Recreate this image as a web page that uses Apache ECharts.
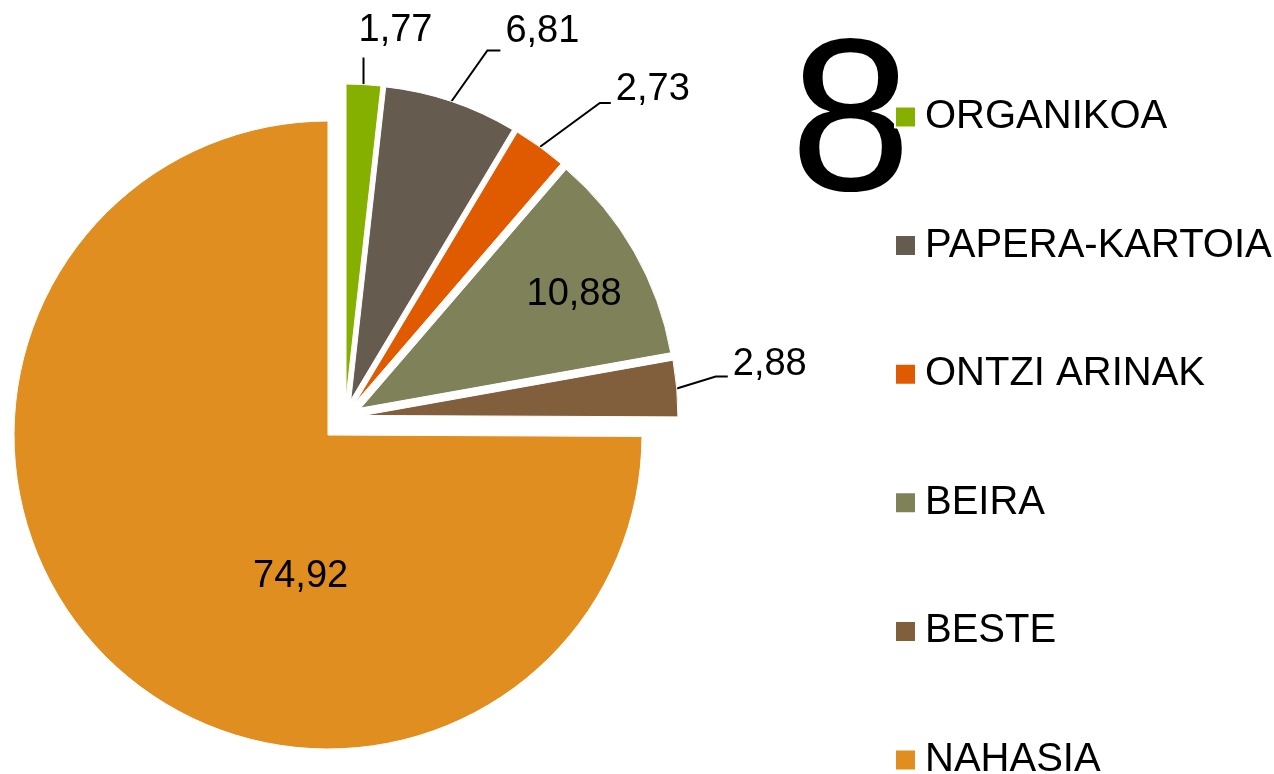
<!DOCTYPE html>
<html>
<head>
<meta charset="utf-8">
<script src="https://cdn.jsdelivr.net/npm/echarts@6/dist/echarts.min.js"></script>
<style>
html, body { margin: 0; padding: 0; background: #fff; }
#main { width: 1274px; height: 774px; }
</style>
</head>
<body>
<div id="main"></div>
<script>
// hondakin motak eta ehunekoak
var names = ['ORGANIKOA', 'PAPERA-KARTOIA', 'ONTZI ARINAK', 'BEIRA', 'BESTE', 'NAHASIA'];
var values = [1.77, 6.81, 2.73, 10.88, 2.88, 74.92];
var colors = ['#86B000', '#655B4F', '#E05A00', '#7F8259', '#815F3D', '#E08E1F'];
var bigNumber = '8';

// etiketak: barruan edo kanpoan lerro batekin
var labelPos = ['outside', 'outside', 'outside', 'inside', 'outside', 'inside'];
// lerroaren itxura: [ukondoa x, ukondoa y, luzera horizontala]
var lineShape = [[0, -27, 0], [36, -51, 13], [60, -44, 11], null, [39, -12, 12], null];
// testuaren mugimendua
var textNudge = [[-10, -27], [0, -19], [0, -13], [74, -34], [0, -12], [86, 29]];

function fmt(p) {
    return p.value.toFixed(2).replace('.', ',');
}

function placeLabel(idx, p) {
    var ls = lineShape[idx], tn = textNudge[idx];
    if (!tn) return;
    if (!ls || !p.labelLinePoints) return { dx: tn[0], dy: tn[1] };
    var a = p.labelLinePoints[0], e = p.labelLinePoints[2];
    var b = [a[0] + ls[0], a[1] + ls[1]];
    var c = [b[0] + ls[2], b[1]];
    return {
        dx: c[0] - e[0] + tn[0],
        dy: c[1] - e[1] + tn[1],
        labelLinePoints: [a, b, c]
    };
}

var hidden = {
    itemStyle: { color: 'rgba(0,0,0,0)', borderWidth: 0 },
    label: { show: false },
    labelLine: { show: false },
    emphasis: { disabled: true }
};

var smallData = [];
var restSum = 0;
for (var i = 0; i < 5; i++) {
    restSum += values[i];
    smallData.push({
        name: names[i],
        value: values[i],
        selected: true,
        itemStyle: { color: colors[i] },
        label: { position: labelPos[i] },
        labelLine: { show: labelPos[i] == 'outside', length: 20, length2: 10 }
    });
}
smallData.push(Object.assign({ name: '_rest', value: values[5], selected: false }, hidden));

var bigData = [
    Object.assign({ name: '_small', value: +restSum.toFixed(2) }, hidden),
    {
        name: names[5],
        value: values[5],
        itemStyle: { color: colors[5] },
        label: { position: 'inside' }
    }
];

var labelStyle = {
    show: true,
    formatter: fmt,
    fontSize: 38,
    color: '#000',
    fontFamily: 'Liberation Sans'
};

var myChart = echarts.init(document.getElementById('main'));
myChart.setOption({
    animation: false,
    color: colors,
    legend: {
        data: names,
        orient: 'vertical',
        left: 894,
        top: 97,
        height: 760,
        padding: 0,
        icon: 'rect',
        itemWidth: 21,
        itemHeight: 21,
        itemGap: 88.6,
        selectedMode: false,
        textStyle: {
            fontSize: 40,
            color: '#000',
            fontFamily: 'Liberation Sans',
            padding: [0, 0, 0, 4]
        }
    },
    graphic: [{
        type: 'text',
        left: 790,
        top: 21,
        z: -1,
        style: {
            text: bigNumber,
            font: '218px "Liberation Sans"',
            fill: '#000'
        }
    }],
    series: [{
        name: 'txikiak',
        type: 'pie',
        center: [345, 417],
        radius: 315,
        startAngle: 90,
        selectedMode: 'multiple',
        selectedOffset: 18,
        avoidLabelOverlap: false,
        itemStyle: { borderColor: '#fff', borderWidth: 1 },
        emphasis: { scale: false },
        label: labelStyle,
        labelLine: { lineStyle: { color: '#000', width: 2 } },
        labelLayout: function (p) {
            return placeLabel(p.dataIndex, p);
        },
        data: smallData
    }, {
        name: 'nahasia',
        type: 'pie',
        center: [328, 435],
        radius: 314,
        startAngle: 90,
        avoidLabelOverlap: false,
        itemStyle: { borderColor: '#fff', borderWidth: 1 },
        emphasis: { scale: false },
        label: labelStyle,
        labelLayout: function (p) {
            if (p.dataIndex == 1) return placeLabel(5, p);
        },
        data: bigData
    }]
});
</script>
</body>
</html>
